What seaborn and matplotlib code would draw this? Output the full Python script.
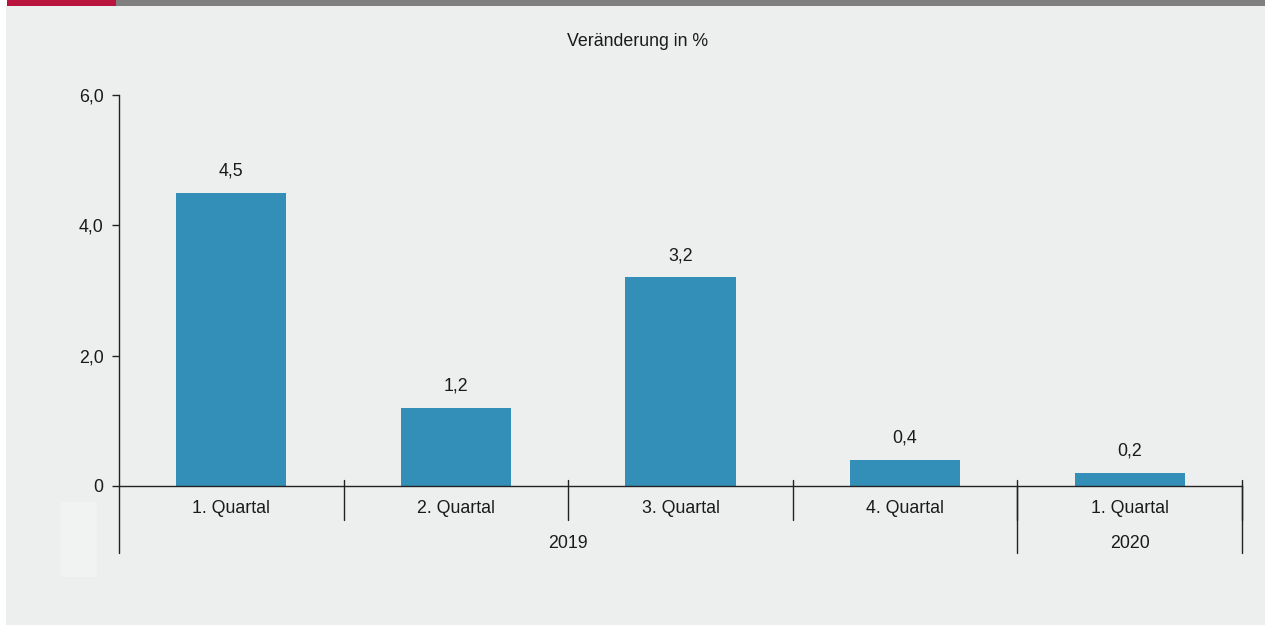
import matplotlib
matplotlib.use("Agg")
import matplotlib.pyplot as plt
import seaborn as sns
import pandas as pd
from matplotlib.patches import Rectangle
from matplotlib.lines import Line2D

categories = ["1. Quartal", "2. Quartal", "3. Quartal", "4. Quartal", "1. Quartal "]
values = [4.5, 1.2, 3.2, 0.4, 0.2]
value_labels = ["4,5", "1,2", "3,2", "0,4", "0,2"]
years = ["2019", "2020"]
year_spans = [(0, 3), (4, 4)]
yticks = [0, 2, 4, 6]
ytick_labels = ["0", "2,0", "4,0", "6,0"]
title = "Veränderung in %"

sns.set_theme(style="white")
plt.rcParams["font.family"] = ["Liberation Sans", "DejaVu Sans"]

BG = "#EDEFEE"
BAR = "#348FB8"
FS = 12.8
W, H = 1265, 625
fig = plt.figure(figsize=(W / 100, H / 100), dpi=100, facecolor="white")

# background panel and top stripes
fig.patches.append(Rectangle((6 / W, 0), 1 - 6 / W, 1 - 6 / H, transform=fig.transFigure,
                             facecolor=BG, edgecolor="none", zorder=-5))
fig.patches.append(Rectangle((7 / W, 1 - 6 / H), (116 - 7) / W, 6 / H, transform=fig.transFigure,
                             facecolor="#B8143E", edgecolor="none", zorder=-5))
fig.patches.append(Rectangle((116 / W, 1 - 6 / H), 1 - 116 / W, 6 / H, transform=fig.transFigure,
                             facecolor="#7F7F7F", edgecolor="none", zorder=-5))
fig.patches.append(Rectangle((61 / W, 1 - 577 / H), 36 / W, 75 / H, transform=fig.transFigure,
                             facecolor="#F1F2F2", edgecolor="none", zorder=-4))

ax = fig.add_axes([119 / W, 1 - 486 / H, (1242 - 119) / W, (486 - 95) / H])
ax.set_facecolor("none")

df = pd.DataFrame({"cat": categories, "val": values})
sns.barplot(data=df, x="cat", y="val", color=BAR, saturation=1, width=0.49, ax=ax, edgecolor="none")

ax.set_xlim(-0.5, 4.5)
ax.set_ylim(0, 6)
ax.set_xlabel("")
ax.set_ylabel("")
ax.set_yticks(yticks)
ax.set_yticklabels(ytick_labels, fontsize=FS, color="#1a1a1a")
ax.tick_params(axis="y", length=5, width=1, color="#222222", direction="out", pad=6, left=True)
ax.set_xticks(range(len(categories)))
ax.set_xticklabels([c.strip() for c in categories], fontsize=FS, color="#1a1a1a")
ax.tick_params(axis="x", length=0, pad=10)

for s in ["top", "right"]:
    ax.spines[s].set_visible(False)
ax.spines["left"].set_color("#222222")
ax.spines["bottom"].set_color("#222222")
ax.spines["left"].set_linewidth(1)
ax.spines["bottom"].set_linewidth(1)

for i, (v, lab) in enumerate(zip(values, value_labels)):
    ax.text(i, v + 0.2, lab, ha="center", va="bottom", fontsize=FS, color="#1a1a1a")

trans = ax.get_xaxis_transform()
# category separators
for b in [0.5, 1.5, 2.5, 3.5, 4.5]:
    ax.add_line(Line2D([b, b], [6 / 391, -34 / 391], transform=trans, color="#222222",
                       lw=1, clip_on=False))
# year group separators
for b in [-0.5, 3.5, 4.5]:
    ax.add_line(Line2D([b, b], [0, -67 / 391], transform=trans, color="#222222",
                       lw=1, clip_on=False))
for yr, (a, b) in zip(years, year_spans):
    ax.text((a + b) / 2, -57 / 391, yr, transform=trans, ha="center", va="center",
            fontsize=FS, color="#1a1a1a")

fig.text(638 / W, 1 - 42 / H, title, ha="center", va="center", fontsize=FS, color="#1a1a1a")

fig.savefig("out.png", dpi=100, facecolor="white")
